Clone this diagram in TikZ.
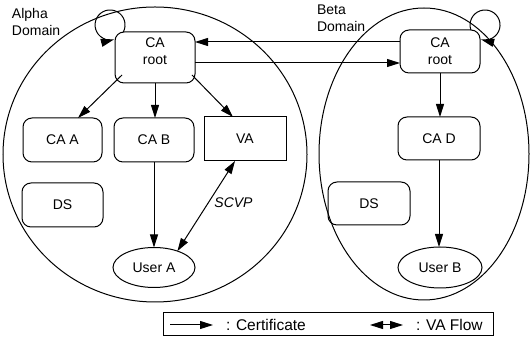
\documentclass[tikz,border=0pt]{standalone}
\usepackage{fontspec}
\setmainfont{Liberation Sans}
\usetikzlibrary{arrows.meta,shapes.geometric}
\begin{document}
\begin{tikzpicture}[x=1pt,y=1pt,
  lw/.style={line width=1pt},
  every node/.style={font=\fontsize{14}{17}\selectfont, inner sep=0pt, outer sep=0pt},
  rbox/.style={draw, lw, rounded corners=9pt, minimum width=80pt, minimum height=44pt, align=center},
  sbox/.style={draw, lw, minimum width=82pt, minimum height=44pt},
  ubox/.style={draw, lw, ellipse, minimum width=82pt, minimum height=40pt},
  cert/.style={lw, -{Triangle[length=13pt,width=8pt]}},
  vaflow/.style={lw, {Triangle[length=13pt,width=8pt]}-{Triangle[length=13pt,width=8pt]}},
  lbl/.style={anchor=north west, align=left},
  legtext/.style={anchor=west, font=\fontsize{15.5}{18}\selectfont}
]
\useasboundingbox (0,0) rectangle (530,347);

% domains
\draw[lw] (155,192.5) ellipse [x radius=152, y radius=147.5];
\draw[lw] (424,193) ellipse [x radius=105, y radius=146];

% labels
\node[lbl] (alab) at (12,339) {Alpha\\Domain};
\node[lbl] (blab) at (317,342) {Beta\\Domain};

% alpha domain nodes
\node[rbox, minimum height=51pt, text depth=13pt] (aroot) at (155,289.5) {CA\\root};
\node[rbox, minimum width=79pt] (caA) at (62.5,207) {CA A};
\node[rbox] (caB) at (154,207) {CA B};
\node[sbox] (va) at (245,208) {VA};
\node[rbox, minimum width=81pt] (dsA) at (62.5,142) {DS};
\node[ubox] (userA) at (154,79.5) {User A};

% beta domain nodes
\node[rbox, minimum height=43pt] (broot) at (440,295.5) {CA\\root};
\node[rbox, minimum width=82pt, minimum height=43pt] (caD) at (439,208.5) {CA D};
\node[rbox, minimum width=82pt, minimum height=43pt] (dsB) at (369,143.5) {DS};
\node[ubox, minimum width=84pt, minimum height=41pt] (userB) at (440,79.5) {User B};

% SCVP label
\node[font=\fontsize{14}{17}\selectfont\itshape] (scvp) at (233.5,144.5) {SCVP};

% self loops
\draw[cert] ([xshift=8.3pt]aroot.north west) arc[start angle=-28, end angle=285, radius=15];
\draw[cert] ([xshift=-9.1pt]broot.north east) arc[start angle=199.5, end angle=-105, radius=15];

% alpha connectors
\draw[cert] ([shift={(7pt,-17.5pt)}]aroot.west) -- ([xshift=15.5pt]caA.north);
\draw[cert] (aroot.south) -- (aroot.south |- caB.north);
\draw[cert] ([shift={(-3pt,-17.5pt)}]aroot.east) -- ([xshift=-12pt]va.north);
\draw[cert] (caB.south) -- (userA.north);
\draw[vaflow] ([xshift=-10pt]va.south) -- (userA.35);

% cross-domain
\draw[cert] ([yshift=-5.5pt]aroot.east) -- ([yshift=-5.5pt]aroot.east -| broot.west);
\draw[cert] ([yshift=9.5pt]broot.west) -- ([yshift=9.5pt]broot.west -| aroot.east);

% beta connectors
\draw[cert] (broot.south) -- (broot.south |- caD.north);
\draw[cert] (caD.south) -- (caD.south |- userB.north);

% legend
\node[draw, lw, minimum width=330pt, minimum height=23pt] (legend) at (328,22.5) {};
\coordinate (c1) at (170,22);
\coordinate (c2) at (213,22);
\coordinate (v1) at (370,22);
\coordinate (v2) at (403,22);
\draw[cert] (c1) -- (c2);
\draw[vaflow] (v1) -- (v2);
\node[legtext] (ltxt1) at (226,22) {: Certificate};
\node[legtext] (ltxt2) at (416,22) {: VA Flow};
\end{tikzpicture}
\end{document}
